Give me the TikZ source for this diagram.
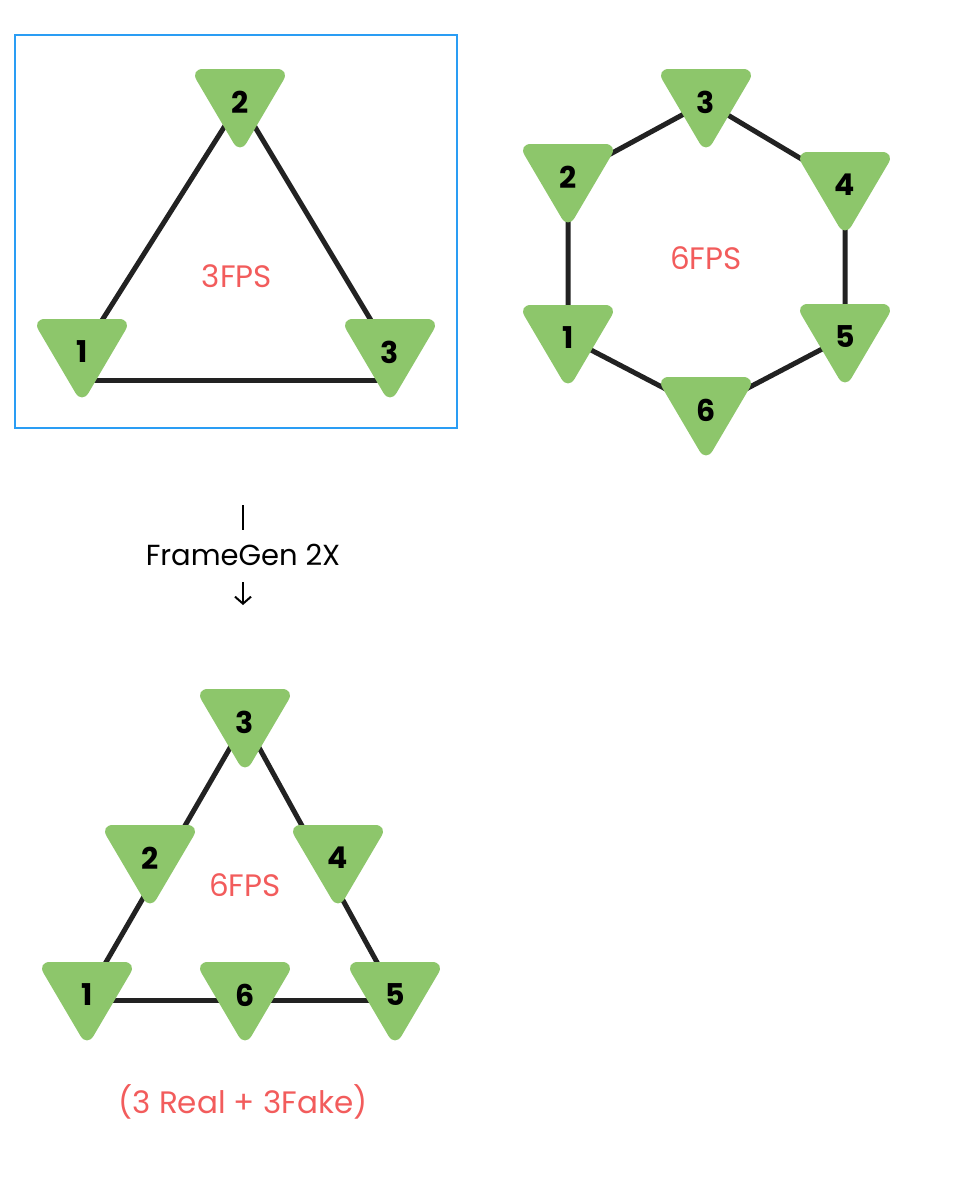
\documentclass[tikz,border=0pt]{standalone}
\usepackage{fontspec}
\setmainfont{Poppins}
\usetikzlibrary{calc,arrows.meta}
\definecolor{tgreen}{HTML}{8DC66B}
\definecolor{tred}{HTML}{F25C5C}
\definecolor{tblue}{HTML}{2A9DF4}
\definecolor{tline}{HTML}{222222}
\begin{document}
\begin{tikzpicture}[x=1pt,y=-1pt,
  frame/.style={text=black,font=\fontsize{30}{30}\selectfont\bfseries,inner sep=0pt},
  edge/.style={draw=tline,line width=5pt},
  lbl/.style={text=tred,font=\fontsize{31}{31}\selectfont,inner sep=0pt},
  captxt/.style={text=black,font=\fontsize{29}{29}\selectfont,inner sep=0pt},
  tri/.style={fill=tgreen,rounded corners=13pt}]
\useasboundingbox (0,0) rectangle (966,1200);
\newcommand{\mytri}[3]{%
  \fill[tri] ($(#2)+(-50,-33)$) -- ($(#2)+(50,-33)$) -- ($(#2)+(0,52)$) -- cycle;
  \node[frame] (#1) at (#2) {#3};}
% box
\draw[tblue,line width=1.5pt] (15,35) rectangle (457,428);
% coordinates
\coordinate (pa2) at (240,102); \coordinate (pa1) at (82,352); \coordinate (pa3) at (390,352);
\coordinate (pb3) at (706,102); \coordinate (pb2) at (568,177); \coordinate (pb4) at (845,185);
\coordinate (pb1) at (568,338); \coordinate (pb5) at (845,337); \coordinate (pb6) at (706,410);
\coordinate (pc3) at (245,722); \coordinate (pc2) at (150,858); \coordinate (pc4) at (338,858);
\coordinate (pc1) at (87,995); \coordinate (pc6) at (245,995); \coordinate (pc5) at (395,995);
% edges
\draw[edge] (pa2) -- (pa1); \draw[edge] (pa2) -- (pa3);
\draw[edge] ([yshift=-28pt]pa1) -- ([yshift=-28pt]pa3);
\draw[edge] (pb2) -- (pb3) -- (pb4) -- (pb5) -- (pb6) -- (pb1) -- cycle;
\draw[edge] (pc3) -- (pc1); \draw[edge] (pc3) -- (pc5);
\draw[edge] ([yshift=-5pt]pc1) -- ([yshift=-5pt]pc5);
% triangles
\mytri{a2}{pa2}{2}\mytri{a1}{pa1}{1}\mytri{a3}{pa3}{3}
\mytri{b1}{pb1}{1}\mytri{b2}{pb2}{2}\mytri{b3}{pb3}{3}\mytri{b4}{pb4}{4}\mytri{b5}{pb5}{5}\mytri{b6}{pb6}{6}
\mytri{c1}{pc1}{1}\mytri{c2}{pc2}{2}\mytri{c3}{pc3}{3}\mytri{c4}{pc4}{4}\mytri{c5}{pc5}{5}\mytri{c6}{pc6}{6}
% labels
\node[lbl] (l1) at (237,276) {3FPS};
\node[lbl] (l2) at (706,258) {6FPS};
\node[lbl] (l3) at (245,885) {6FPS};
\node[lbl] (l4) at (243,1102) {(3 Real + 3Fake)};
% framegen
\node[captxt] (fg) at (243,555) {FrameGen 2X};
\coordinate (t1) at (243,505); \coordinate (t2) at (243,530);
\draw[line width=2pt] (t1) -- (t2);
\coordinate (t3) at (243,582); \coordinate (t4) at (243,605);
\draw[line width=2pt,-{Straight Barb[length=7pt,width=16pt,line width=2pt]}] (t3) -- (t4);
\end{tikzpicture}
\end{document}
